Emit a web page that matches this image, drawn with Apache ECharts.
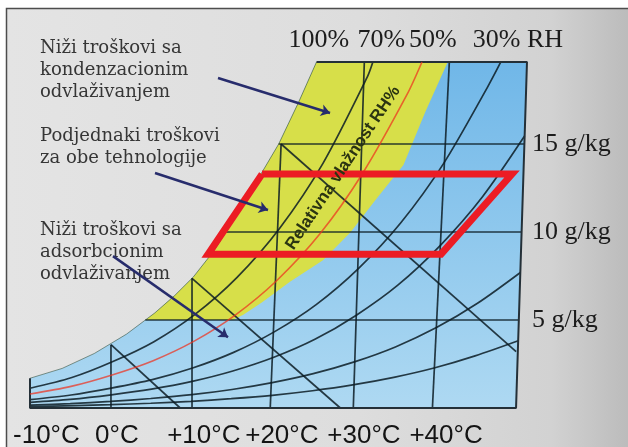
<!DOCTYPE html>
<html lang="sr" style="height: 100%">
<head>
<meta charset="utf-8">
<title>Psihrometrijski dijagram</title>
</head>
<body style="height: 100%; margin: 0; background: #fff">
<div id="container" style="width: 628px; height: 447px"></div>

<script type="text/javascript" src="https://cdn.jsdelivr.net/npm/echarts@6/dist/echarts.min.js"></script>

<script type="text/javascript">
var dom = document.getElementById('container');
var myChart = echarts.init(dom, null, { renderer: 'canvas' });
var option;

// axis labels (x = dry bulb scale in °C, y = moisture content in g/kg)
var tempLabels = ['-10°C', '0°C', '+10°C', '+20°C', '+30°C', '+40°C'];
var tempLabelPos = [-7.96, 0.8, 11.59, 21.29, 31.49, 41.69];
var rhLabels = ['100%', '70%', '50%', '30% RH'];
var rhLabelPos = [25.88, 33.66, 40.06, 50.63];
var moistureTicks = [5, 10, 15];

// relative humidity curves [°C, g/kg]
var saturation = [[-10, 1.69], [-6, 2.25], [-2, 3.1], [2, 4.2], [5.5, 5.4], [8, 6.4], [10.3, 7.45],
    [12.8, 8.9], [15.2, 10.6], [17.8, 12.6], [20.9, 15.0], [23.3, 17.3], [25.6, 19.66]];
var rh70 = [[-10, 1.12], [-4.8, 1.73], [0.3, 2.64], [5.4, 3.77], [10.5, 5.32], [15.7, 7.41],
    [21, 10.2], [26.4, 13.9], [31.9, 18.8], [32.6, 19.66]];
var rh50 = [[-10, 0.8], [-4.9, 1.23], [0.2, 1.88], [5.3, 2.69], [10.4, 3.8], [15.5, 5.28],
    [20.7, 7.26], [26, 9.88], [31.3, 13.31], [36.8, 17.77], [38.7, 19.66]];
var rh30 = [[-10, 0.48], [-4.9, 0.74], [0.1, 1.13], [5.2, 1.61], [10.2, 2.27], [15.3, 3.16],
    [20.4, 4.34], [25.6, 5.89], [30.8, 7.92], [36.1, 10.54], [41.4, 13.9], [46.8, 18.19], [48.5, 19.66]];
var rh20 = [[-10, 0.32], [-5, 0.49], [0.1, 0.75], [5.1, 1.07], [10.15, 1.51], [15.2, 2.1],
    [20.3, 2.88], [25.4, 3.9], [30.5, 5.26], [35.7, 6.98], [40.9, 9.2], [46.2, 11.99], [51.45, 15.45]];
var rh10 = [[-10, 0.16], [-5, 0.25], [0, 0.375], [5, 0.54], [10.1, 0.755], [15.1, 1.05], [20.1, 1.44],
    [25.2, 1.95], [30.3, 2.62], [35.4, 3.47], [40.5, 4.57], [45.6, 5.95], [50.93, 7.7]];
var rh5 = [[-10, 0.08], [0, 0.19], [5, 0.27], [10, 0.38], [15, 0.53], [20.1, 0.72], [25.1, 0.98],
    [30.1, 1.31], [35.2, 1.74], [40.2, 2.27], [45.3, 2.96], [50.66, 3.82]];

// right edge of the yellow band (condensation cheaper)
var yellowEdge = [[41.9, 19.66], [39.1, 16.8], [36.4, 13.8], [32.9, 11.8], [29.8, 9.97], [26.4, 8.4],
    [22.3, 7.18], [18.8, 6.0], [16.5, 5.3], [15.2, 5.0]];

// straight grid lines of the diagram
var dryBulbLines = [[[0.06, 0], [0.06, 3.6]], [[10.13, 0], [10.13, 7.37]], [[19.85, 0], [21.2, 15.0]],
    [[30.17, 0], [31.54, 19.66]], [[40.0, 0], [42.1, 19.66]]];
var enthalpyLines = [[[0.06, 3.6], [8.66, 0]], [[10.13, 7.37], [28.56, 0]], [[21.2, 15.0], [50.4, 3.2]]];
var moistureLines = [[[4.33, 5], [50.74, 5]], [[14.35, 10], [51.08, 10]], [[20.9, 15], [51.42, 15]]];
var chartEdge = [[-10, 1.69], [-10, 0], [50.39, 0], [51.75, 19.66], [25.6, 19.66]];

// equal-cost zone and callout arrows
var redBox = [[18.83, 13.29], [49.89, 13.29], [41.07, 8.74], [12.12, 8.74], [18.83, 13.29]];
var arrows = [[[13.36, 18.75], [27.28, 16.76]], [[5.53, 13.35], [19.57, 11.25]], [[0.31, 8.63], [14.6, 4.02]]];

var bluePoly = saturation.concat([[51.75, 19.66], [50.39, 0], [-10, 0]]);
var yellowPoly = [[4.33, 5]].concat(saturation.filter(function (p) { return p[1] > 5; }), yellowEdge);

function nearest(list, v) {
    var best = 0;
    list.forEach(function (x, i) { if (Math.abs(x - v) < Math.abs(list[best] - v)) best = i; });
    return best;
}

function polygonSeries(points, fill, z) {
    return {
        type: 'custom',
        z: z,
        silent: true,
        data: [0],
        renderItem: function (params, api) {
            return {
                type: 'polygon',
                shape: { points: points.map(function (p) { return api.coord(p); }) },
                style: { fill: fill }
            };
        }
    };
}

var darkLine = { color: 'rgba(12,28,36,0.85)', width: 1.7 };

function lineSeries(data, style, z, smooth) {
    return {
        type: 'line',
        data: data,
        symbol: 'none',
        smooth: smooth || false,
        silent: true,
        z: z,
        lineStyle: style
    };
}

var series = [
    polygonSeries(bluePoly, new echarts.graphic.LinearGradient(0, 0, 0, 1, [
        { offset: 0, color: '#70b7e8' },
        { offset: 1, color: '#aed9f2' }
    ]), 1),
    polygonSeries(yellowPoly, '#d7df49', 2),
    lineSeries(saturation, { color: 'rgba(40,70,50,0.55)', width: 1 }, 3)
];
[rh70, rh30, rh20, rh10, rh5].forEach(function (c) {
    series.push(lineSeries(c, darkLine, 3, 0.3));
});
dryBulbLines.concat(enthalpyLines, moistureLines).forEach(function (l) {
    series.push(lineSeries(l, darkLine, 3));
});
series.push(lineSeries(chartEdge, { color: '#243038', width: 2 }, 3));
series.push(lineSeries(rh50, { color: 'rgba(238,50,30,0.72)', width: 1.6 }, 4, 0.3));
series.push(lineSeries(redBox, { color: '#ec1c24', width: 7, join: 'miter' }, 6));
series.push({
    type: 'lines',
    coordinateSystem: 'cartesian2d',
    z: 7,
    silent: true,
    symbol: ['none', 'arrow'],
    symbolSize: 9,
    lineStyle: { color: '#272c6c', width: 2.5, opacity: 1 },
    data: arrows.map(function (a) { return { coords: a }; })
});

var noteFont = { fontFamily: 'DejaVu Serif', fontSize: 18, lineHeight: 22, fill: '#363636', verticalAlign: 'top' };

option = {
    animation: false,
    backgroundColor: '#ffffff',
    grid: { left: 30, right: 99, top: 56, bottom: 39, outerBoundsMode: 'none' },
    xAxis: [{
        type: 'value', min: -10, max: 52, position: 'bottom',
        axisLine: { show: false }, axisTick: { show: false }, splitLine: { show: false },
        axisLabel: {
            customValues: tempLabelPos,
            formatter: function (v) { return tempLabels[nearest(tempLabelPos, v)]; },
            fontFamily: 'Liberation Sans', fontSize: 26, color: '#141414', margin: 15
        }
    }, {
        type: 'value', min: -10, max: 52, position: 'top',
        axisLine: { show: false }, axisTick: { show: false }, splitLine: { show: false },
        axisLabel: {
            customValues: rhLabelPos,
            formatter: function (v) { return rhLabels[nearest(rhLabelPos, v)]; },
            fontFamily: 'Liberation Serif', fontSize: 26, color: '#1c1c1c', margin: 3
        }
    }],
    yAxis: {
        type: 'value', min: 0, max: 20, position: 'right',
        axisLine: { show: false }, axisTick: { show: false }, splitLine: { show: false },
        axisLabel: {
            customValues: moistureTicks,
            formatter: function (v) { return v + ' g/kg'; },
            fontFamily: 'Liberation Serif', fontSize: 26, color: '#1c1c1c', margin: 3, align: 'left'
        }
    },
    graphic: [{
        type: 'rect', z: -10, silent: true,
        shape: { x: 6.5, y: 8.5, width: 640, height: 460 },
        style: {
            fill: new echarts.graphic.LinearGradient(0, 0, 1, 0, [
                { offset: 0, color: '#e4e4e4' },
                { offset: 0.55, color: '#dddddd' },
                { offset: 0.85, color: '#d2d2d2' },
                { offset: 1, color: '#b6b6b6' }
            ]),
            stroke: '#4d4d4d', lineWidth: 1.5
        }
    }, {
        type: 'text', x: 40, y: 37, z: 1,
        style: Object.assign({ text: 'Niži troškovi sa\nkondenzacionim\nodvlaživanjem' }, noteFont)
    }, {
        type: 'text', x: 40, y: 125, z: 1,
        style: Object.assign({ text: 'Podjednaki troškovi\nza obe tehnologije' }, noteFont)
    }, {
        type: 'text', x: 40, y: 219, z: 1,
        style: Object.assign({ text: 'Niži troškovi sa\nadsorbcionim\nodvlaživanjem' }, noteFont)
    }, {
        type: 'text', x: 343, y: 168, z: 50, rotation: 56.3 * Math.PI / 180,
        style: {
            text: 'Relativna vlažnost RH%', align: 'center', verticalAlign: 'middle',
            fontFamily: 'Liberation Sans', fontWeight: 'bold', fontSize: 17, fill: '#2b3412'
        }
    }],
    series: series
};

if (option && typeof option === 'object') {
    myChart.setOption(option);
}

window.addEventListener('resize', myChart.resize);
</script>
</body>
</html>
